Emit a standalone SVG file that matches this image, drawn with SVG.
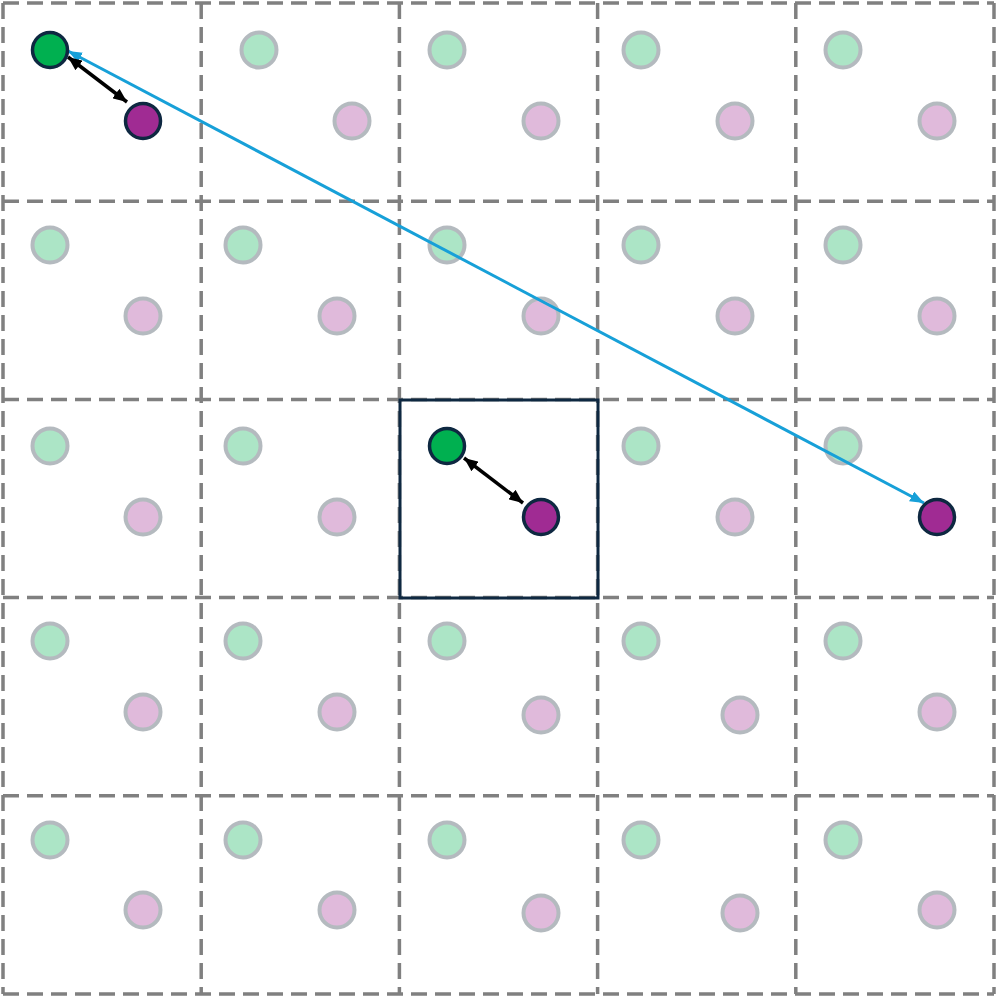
<svg xmlns="http://www.w3.org/2000/svg" width="997" height="999" viewBox="0 0 997 999">
<defs>
<style>
.grid{stroke:#808080;stroke-width:3.5;stroke-dasharray:16 8;fill:none}
.g{fill:#00b050;stroke:#0e2841;stroke-width:3.5}
.p{fill:#a02b93;stroke:#0e2841;stroke-width:3.5}
.faint{opacity:0.32}
.faint circle{stroke:#1a2c3a;stroke-width:4}
.blk{stroke:#000;stroke-width:3.5;fill:none}
.blue{stroke:#17a0d8;stroke-width:3;fill:none}
</style>
<marker id="ak" viewBox="0 0 14 12" refX="14" refY="6" markerWidth="14" markerHeight="12" markerUnits="userSpaceOnUse" orient="auto-start-reverse"><path d="M0 0L14 6L0 12z" fill="#000"/></marker>
<marker id="ab" viewBox="0 0 14 11" refX="14" refY="5.5" markerWidth="14" markerHeight="11" markerUnits="userSpaceOnUse" orient="auto-start-reverse"><path d="M0 0L14 5.5L0 11z" fill="#17a0d8"/></marker>
</defs>
<rect width="997" height="999" fill="#fff"/>
<g id="grid">
<path class="grid" d="M3 3H994M3 201.2H994M3 399.4H994M3 597.6H994M3 795.8H994M3 994H994M3 3V994M201.2 3V994M399.4 3V994M597.6 3V994M795.8 3V994M994 3V994"/>
</g>
<g id="faded" class="faint">
<g fill="#00b050">
<circle cx="259" cy="50" r="17.5"/><circle cx="447" cy="50" r="17.5"/><circle cx="641" cy="50" r="17.5"/><circle cx="843" cy="50" r="17.5"/>
<circle cx="50" cy="245" r="17.5"/><circle cx="243" cy="245" r="17.5"/><circle cx="447" cy="245" r="17.5"/><circle cx="641" cy="245" r="17.5"/><circle cx="843" cy="245" r="17.5"/>
<circle cx="50" cy="446" r="17.5"/><circle cx="243" cy="446" r="17.5"/><circle cx="641" cy="446" r="17.5"/><circle cx="843" cy="446" r="17.5"/>
<circle cx="50" cy="641" r="17.5"/><circle cx="243" cy="641" r="17.5"/><circle cx="447" cy="641" r="17.5"/><circle cx="641" cy="641" r="17.5"/><circle cx="843" cy="641" r="17.5"/>
<circle cx="50" cy="840" r="17.5"/><circle cx="243" cy="840" r="17.5"/><circle cx="447" cy="840" r="17.5"/><circle cx="641" cy="840" r="17.5"/><circle cx="843" cy="840" r="17.5"/>
</g>
<g fill="#a02b93">
<circle cx="352" cy="121" r="17.5"/><circle cx="541" cy="121" r="17.5"/><circle cx="735" cy="121" r="17.5"/><circle cx="937" cy="121" r="17.5"/>
<circle cx="143" cy="316" r="17.5"/><circle cx="337" cy="316" r="17.5"/><circle cx="541" cy="316" r="17.5"/><circle cx="735" cy="316" r="17.5"/><circle cx="937" cy="316" r="17.5"/>
<circle cx="143" cy="517" r="17.5"/><circle cx="337" cy="517" r="17.5"/><circle cx="735" cy="517" r="17.5"/>
<circle cx="143" cy="712" r="17.5"/><circle cx="337" cy="712" r="17.5"/><circle cx="541" cy="715" r="17.5"/><circle cx="740" cy="715" r="17.5"/><circle cx="937" cy="712" r="17.5"/>
<circle cx="143" cy="910" r="17.5"/><circle cx="337" cy="910" r="17.5"/><circle cx="541" cy="913" r="17.5"/><circle cx="740" cy="913" r="17.5"/><circle cx="937" cy="910" r="17.5"/>
</g>
</g>
<g id="center-cell"><rect x="400" y="400" width="198" height="198" fill="none" stroke="#0e2841" stroke-width="3"/></g>
<g id="connectors">
<line class="blue" x1="68" y1="51" x2="924" y2="503" marker-start="url(#ab)" marker-end="url(#ab)"/>
<line class="blk" x1="68" y1="57" x2="127" y2="102" marker-start="url(#ak)" marker-end="url(#ak)"/>
<line class="blk" x1="464" y1="458" x2="523" y2="503" marker-start="url(#ak)" marker-end="url(#ak)"/>
</g>
<g id="green-a"><circle class="g" cx="50" cy="50" r="17.5"/></g>
<g id="purple-a"><circle class="p" cx="143" cy="121" r="17.5"/></g>
<g id="green-c"><circle class="g" cx="447" cy="446" r="17.5"/></g>
<g id="purple-c"><circle class="p" cx="541" cy="517" r="17.5"/></g>
<g id="purple-far"><circle class="p" cx="937" cy="517" r="17.5"/></g>
</svg>
